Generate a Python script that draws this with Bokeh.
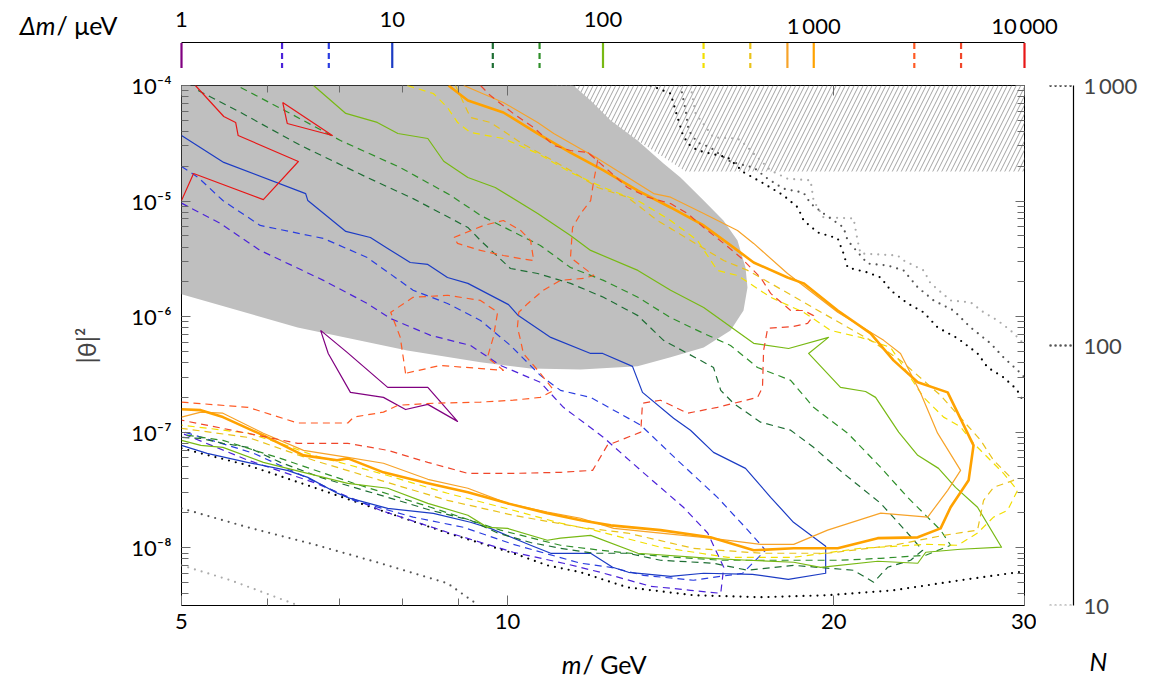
from bokeh.plotting import figure
from bokeh.layouts import column, row
from bokeh.models import Range1d, FixedTicker, LogAxis
from bokeh.core.properties import value
from bokeh.embed import file_html
from bokeh.resources import INLINE

FONT = "Lato"
LABEL_SIZE = "22px"
TITLE_SIZE = "25px"
TICK_COLOR = "#6b6b6b"
DASH = "7 5"
DOT = "0 7"

# ---------------- colour key: mass splitting (μeV) ----------------
dm_values = [1, 3, 5, 10, 30, 50, 100, 300, 500, 750, 1000, 3000, 5000, 10000]
dm_colors = ["#800080", "#4b22d9", "#2a3de0", "#1c3cc4", "#1e6e34", "#2f8f2a", "#78b914",
             "#f2df00", "#e9c21a", "#f7a329", "#ffa200", "#ff5a24", "#f0462a", "#e81717"]
dm_dashed = [False, True, True, False, True, True, False, True, True, False, False, True, True, False]
dm_label_values = [1, 10, 100, 1000, 10000]
dm_label_texts = ["1", "10", "100", "1\u2009000", "10\u2009000"]

# ---------------- event-count key ----------------
n_values = [1000, 100, 10]
n_colors = ["#000000", "#555555", "#ababab"]
n_tick_labels = {10: "10", 100: "100", 1000: "1\u2009000"}

# ---------------- axes ----------------
m_ticks = [5, 10, 20, 30]
m_minor = [6, 7, 8, 9]
theta_ticks = [1e-8, 1e-7, 1e-6, 1e-5, 1e-4]
theta_tick_labels = {1e-8: "10\u207b\u2078", 1e-7: "10\u207b\u2077", 1e-6: "10\u207b\u2076",
                     1e-5: "10\u207b\u2075", 1e-4: "10\u207b\u2074"}

# ---------------- excluded regions ----------------
excl_m = [5.0, 11.50, 11.93, 12.45, 13.18, 13.93, 14.44, 15.17, 15.82, 16.30, 16.58, 16.65,
          16.51, 16.06, 15.17, 14.14, 13.18, 11.68, 10.50, 9.44, 8.08, 6.40, 5.0]
excl_t = [1e-4, 1e-4, 7.42e-5, 4.98e-5, 3.34e-5, 2.11e-5, 1.60e-5, 1.01e-5, 6.79e-6, 4.56e-6,
          2.66e-6, 1.79e-6, 1.13e-6, 7.60e-7, 5.41e-7, 4.44e-7, 3.71e-7, 3.49e-7, 3.56e-7,
          4.02e-7, 5.10e-7, 8.06e-7, 1.56e-6]
hatch_m = [11.0, 30.0, 30.0, 14.6]
hatch_t = [1e-4, 1e-4, 1.8e-5, 1.8e-5]

# ---------------- event-number contours ----------------
m_n1000_hi = [13.55, 14.14, 14.35, 14.50, 14.66, 14.97, 15.97, 16.52, 17.23, 17.97, 18.53, 18.76,
              19.33, 20.17, 20.42, 20.60, 21.49, 22.10, 22.57, 23.40, 24.21, 24.94, 26.03, 27.15,
              27.74, 28.69, 29.50, 30.0]
t_n1000_hi = [1.00e-4, 8.52e-5, 5.29e-5, 3.84e-5, 3.15e-5, 2.74e-5, 2.38e-5, 1.77e-5, 1.42e-5,
              1.12e-5, 8.80e-6, 6.79e-6, 5.35e-6, 4.75e-6, 3.52e-6, 2.66e-6, 2.41e-6, 2.18e-6,
              1.69e-6, 1.30e-6, 1.09e-6, 8.06e-7, 6.48e-7, 4.80e-7, 3.63e-7, 2.98e-7, 2.35e-7, 1.78e-7]
m_n1000_lo = [5.00, 5.76, 6.62, 7.63, 8.80, 10.12, 10.88, 11.68, 12.90, 14.84, 17.12, 19.74,
              22.71, 26.19, 30.0]
t_n1000_lo = [7.24e-8, 5.16e-8, 3.33e-8, 2.11e-8, 1.34e-8, 8.96e-9, 7.04e-9, 6.13e-9, 4.54e-9,
              3.88e-9, 3.73e-9, 3.88e-9, 4.28e-9, 5.23e-9, 6.25e-9]

m_n100_hi = [14.44, 14.60, 14.69, 14.97, 15.39, 15.97, 16.30, 16.87, 17.38, 17.97, 18.76, 19.04,
             19.57, 20.42, 20.60, 20.86, 21.49, 22.43, 23.20, 23.91, 24.73, 25.80, 26.75, 27.91,
             28.69, 29.56, 30.0]
t_n100_hi = [1.00e-4, 6.08e-5, 4.08e-5, 3.21e-5, 2.91e-5, 2.25e-5, 2.11e-5, 1.95e-5, 1.56e-5,
             1.28e-5, 1.18e-5, 9.51e-6, 7.81e-6, 5.91e-6, 4.56e-6, 3.97e-6, 2.88e-6, 2.77e-6,
             2.51e-6, 1.79e-6, 1.38e-6, 1.13e-6, 8.06e-7, 5.87e-7, 4.44e-7, 3.43e-7, 2.98e-7]
m_n100_lo = [5.00, 5.76, 6.62, 7.63, 8.80, 9.40]
t_n100_lo = [2.19e-8, 1.50e-8, 1.07e-8, 7.34e-9, 4.92e-9, 3.18e-9]

m_n10_hi = [14.75, 14.91, 15.49, 16.30, 16.52, 17.01, 17.49, 18.13, 19.04, 19.16, 19.57, 20.86,
            21.04, 21.17, 22.91, 23.20, 24.21, 24.57, 25.64, 26.75, 27.50, 28.33, 29.12, 29.75, 30.0]
t_n10_hi = [1.00e-4, 5.73e-5, 3.55e-5, 3.48e-5, 3.15e-5, 2.38e-5, 1.84e-5, 1.56e-5, 1.51e-5,
            1.01e-5, 7.22e-6, 7.08e-6, 4.56e-6, 3.52e-6, 3.38e-6, 3.06e-6, 2.51e-6, 1.94e-6,
            1.38e-6, 1.33e-6, 1.09e-6, 9.27e-7, 7.60e-7, 6.23e-7, 5.63e-7]
m_n10_lo = [5.00, 5.55, 6.40]
t_n10_lo = [7.04e-9, 5.23e-9, 3.18e-9]

# ---------------- Δm contours ----------------
m_dm1 = [6.72, 6.83, 7.16, 7.68, 8.05, 8.44, 8.99, 8.44, 7.75, 7.11, 6.72]
t_dm1 = [7.6e-7, 4.8e-7, 2.21e-7, 2.0e-7, 1.57e-7, 1.74e-7, 1.24e-7, 2.44e-7, 2.44e-7, 4.9e-7, 7.6e-7]

m_dm3 = [5.00, 5.43, 5.91, 6.76, 7.42, 7.80, 8.49, 9.24, 9.85, 10.72, 11.26, 12.26, 13.27, 14.53,
         15.30, 15.83, 15.73, 14.75, 13.55, 12.18, 11.26, 10.12, 8.80, 7.63, 6.62, 5.76, 5.00]
t_dm3 = [9.6e-6, 6.40e-6, 3.74e-6, 2.06e-6, 1.30e-6, 9.61e-7, 6.88e-7, 5.63e-7, 3.78e-7, 2.70e-7,
         1.64e-7, 9.01e-8, 4.67e-8, 2.24e-8, 1.34e-8, 6.77e-9, 4.03e-9, 4.28e-9, 4.64e-9, 6.13e-9,
         7.34e-9, 9.14e-9, 1.36e-8, 2.11e-8, 3.68e-8, 5.71e-8, 9.80e-8]

m_dm5 = [5.00, 5.18, 5.46, 5.91, 6.76, 7.42, 8.18, 8.80, 9.44, 10.06, 10.72, 11.19, 11.93, 13.27,
         14.35, 15.62, 16.66, 17.30, 16.48, 14.84, 13.35, 12.45, 11.68, 10.12, 9.11, 8.18, 7.21,
         6.40, 5.83, 5.00]
t_dm5 = [1.99e-5, 1.60e-5, 1.01e-5, 6.15e-6, 4.75e-6, 3.25e-6, 1.69e-6, 1.30e-6, 9.27e-7, 5.63e-7,
         3.10e-7, 2.30e-7, 2.00e-7, 1.15e-7, 5.71e-8, 2.73e-8, 1.42e-8, 9.51e-9, 6.01e-9, 5.23e-9,
         5.77e-9, 6.77e-9, 7.34e-9, 1.07e-8, 1.50e-8, 1.84e-8, 2.57e-8, 4.40e-8, 6.56e-8, 1.02e-7]

m_dm10 = [5.00, 5.47, 6.51, 6.54, 7.09, 7.47, 7.75, 8.13, 8.44, 8.80, 9.19, 10.02, 10.23, 10.96,
          11.93, 12.24, 13.04, 13.32, 14.23, 14.75, 15.49, 16.58, 17.49, 18.36, 19.66, 19.66, 18.16,
          16.83, 15.17, 14.14, 12.93, 12.50, 11.93, 10.96, 10.50, 9.64, 9.24, 8.54, 7.75, 7.16, 6.97,
          6.54, 6.26, 5.75, 5.28, 5.00]
t_dm10 = [3.69e-5, 2.16e-5, 1.16e-5, 1.01e-5, 5.46e-6, 4.84e-6, 3.89e-6, 2.94e-6, 2.83e-6, 2.18e-6,
          1.94e-6, 1.27e-6, 1.02e-6, 6.61e-7, 4.80e-7, 4.80e-7, 3.71e-7, 2.21e-7, 1.32e-7, 1.04e-7,
          6.69e-8, 4.86e-8, 2.73e-8, 1.66e-8, 1.03e-8, 6.01e-9, 5.33e-9, 5.89e-9, 6.01e-9, 5.66e-9,
          6.13e-9, 6.77e-9, 8.95e-9, 8.95e-9, 1.05e-8, 1.47e-8, 1.66e-8, 1.98e-8, 2.19e-8, 2.67e-8,
          2.95e-8, 4.06e-8, 4.67e-8, 5.48e-8, 6.55e-8, 7.69e-8]

m_dm30 = [5.18, 5.67, 6.44, 7.42, 8.18, 9.19, 9.44, 10.06, 10.66, 11.43, 12.26, 13.19, 13.93, 14.66,
          15.49, 15.73, 16.16, 17.12, 18.25, 19.16, 20.42, 22.10, 23.40, 24.16, 23.55, 22.43, 21.77,
          20.86, 18.37, 16.66, 15.49, 13.84, 12.90, 12.01, 11.19, 10.50, 9.79, 9.24, 8.49, 7.75,
          7.21, 6.72, 6.17, 5.76, 5.46, 5.21, 5.00]
t_dm30 = [9.05e-5, 5.84e-5, 3.03e-5, 1.60e-5, 1.05e-5, 5.91e-6, 4.56e-6, 2.61e-6, 2.36e-6, 1.94e-6,
          1.47e-6, 1.02e-6, 6.23e-7, 4.80e-7, 3.63e-7, 2.30e-7, 1.78e-7, 1.22e-7, 1.04e-7, 7.39e-8,
          4.40e-8, 2.42e-8, 1.34e-8, 9.51e-9, 7.79e-9, 6.77e-9, 5.03e-9, 6.38e-9, 7.04e-9, 6.38e-9,
          7.34e-9, 7.79e-9, 8.96e-9, 8.96e-9, 9.89e-9, 1.11e-8, 1.34e-8, 1.73e-8, 2.11e-8, 2.73e-8,
          3.33e-8, 4.06e-8, 5.48e-8, 7.39e-8, 8.01e-8, 8.84e-8, 9.01e-8]

m_dm50 = [5.67, 6.30, 7.01, 7.96, 8.86, 9.44, 10.72, 11.43, 12.26, 13.19, 14.14, 15.17, 16.06,
          17.01, 18.25, 19.16, 20.60, 22.10, 23.40, 25.10, 25.64, 24.32, 22.10, 20.29, 17.86, 15.73,
          13.84, 12.18, 11.19, 9.85, 8.49, 7.21, 6.17, 5.46, 5.00]
t_dm50 = [9.61e-5, 5.73e-5, 3.34e-5, 1.95e-5, 1.12e-5, 7.51e-6, 4.13e-6, 2.66e-6, 2.06e-6, 1.47e-6,
          9.80e-7, 7.16e-7, 5.63e-7, 3.63e-7, 2.81e-7, 1.64e-7, 9.80e-8, 4.96e-8, 2.73e-8, 1.42e-8,
          1.05e-8, 8.60e-9, 8.10e-9, 7.79e-9, 7.79e-9, 7.79e-9, 8.43e-9, 9.51e-9, 1.05e-8, 1.42e-8,
          2.24e-8, 3.61e-8, 5.93e-8, 8.50e-8, 9.57e-8]

m_dm100 = [6.62, 7.09, 7.58, 7.92, 8.44, 8.73, 9.19, 9.74, 10.66, 11.43, 11.93, 13.19, 14.14, 15.17,
           16.87, 18.17, 19.78, 18.96, 20.29, 21.40, 21.86, 22.96, 23.91, 24.99, 25.91, 27.15, 28.57,
           26.19, 24.32, 23.91, 21.96, 19.45, 18.37, 16.66, 15.39, 13.19, 11.93, 11.19, 10.88, 10.00,
           9.58, 9.19, 8.44, 7.75, 7.12, 6.48, 5.95, 5.46, 5.21, 5.00]
t_dm100 = [1.00e-4, 5.73e-5, 4.79e-5, 3.84e-5, 3.48e-5, 2.21e-5, 1.60e-5, 1.31e-5, 7.81e-6, 5.04e-6,
           3.74e-6, 2.51e-6, 1.69e-6, 1.20e-6, 5.87e-7, 5.30e-7, 6.61e-7, 4.80e-7, 2.44e-7, 2.25e-7,
           2.00e-7, 1.00e-7, 6.30e-8, 4.86e-8, 3.33e-8, 2.24e-8, 1.01e-8, 9.70e-9, 9.14e-9, 7.34e-9,
           7.64e-9, 6.77e-9, 7.49e-9, 7.79e-9, 8.10e-9, 8.96e-9, 1.28e-8, 1.21e-8, 1.16e-8, 1.47e-8,
           1.50e-8, 1.91e-8, 2.42e-8, 3.27e-8, 3.61e-8, 4.49e-8, 5.48e-8, 7.39e-8, 7.69e-8, 8.50e-8]

m_dm300 = [8.08, 8.54, 8.80, 8.99, 9.24, 9.91, 10.66, 11.43, 12.26, 13.19, 14.14, 14.97, 15.62,
           16.30, 17.49, 18.76, 19.87, 21.17, 22.57, 24.21, 25.26, 26.19, 26.92, 27.50, 28.69, 29.56,
           28.94, 28.09, 27.15, 26.03, 24.42, 21.17, 18.37, 15.97, 13.84, 12.01, 11.19, 10.12, 8.80,
           7.63, 6.62, 6.17, 5.76, 5.00]
t_dm300 = [1.00e-4, 8.52e-5, 6.45e-5, 4.79e-5, 3.92e-5, 3.48e-5, 2.58e-5, 1.77e-5, 1.31e-5, 1.01e-5,
           6.79e-6, 4.56e-6, 2.51e-6, 2.27e-6, 1.47e-6, 1.09e-6, 7.60e-7, 6.61e-7, 5.41e-7, 2.00e-7,
           1.35e-7, 1.11e-7, 8.01e-8, 6.56e-8, 4.40e-8, 3.14e-8, 2.11e-8, 1.84e-8, 1.34e-8, 1.05e-8,
           1.07e-8, 9.89e-9, 8.26e-9, 8.26e-9, 1.01e-8, 1.42e-8, 1.63e-8, 2.11e-8, 2.96e-8, 4.40e-8,
           6.30e-8, 8.01e-8, 9.80e-8, 1.15e-7]

m_dm500 = [8.95, 9.24, 9.64, 10.28, 10.88, 11.43, 12.11, 12.90, 13.75, 14.75, 15.83, 16.66, 17.49,
           18.64, 19.87, 21.63, 23.05, 25.10, 27.33, 28.09, 29.31, 28.09, 27.50, 27.15, 25.26, 22.71,
           19.74, 17.12, 14.84, 12.90, 11.68, 10.12, 8.80, 7.63, 6.62, 5.76, 5.00]
t_dm500 = [1.00e-4, 5.29e-5, 4.79e-5, 3.21e-5, 2.38e-5, 1.84e-5, 1.31e-5, 1.08e-5, 6.79e-6, 4.56e-6,
           3.06e-6, 2.51e-6, 1.94e-6, 1.38e-6, 9.80e-7, 6.23e-7, 4.18e-7, 2.08e-7, 8.50e-8, 5.71e-8,
           3.83e-8, 3.33e-8, 2.57e-8, 1.42e-8, 1.28e-8, 1.05e-8, 8.96e-9, 8.96e-9, 9.89e-9, 1.34e-8,
           1.50e-8, 1.91e-8, 2.57e-8, 3.83e-8, 5.71e-8, 9.01e-8, 1.08e-7]

m_dm750 = [9.11, 9.91, 10.66, 11.03, 11.75, 12.11, 13.64, 14.14, 15.17, 16.30, 16.87, 18.13, 20.17,
           22.24, 23.05, 24.06, 24.94, 26.19, 25.48, 24.42, 22.10, 19.74, 18.37, 17.12, 15.39, 13.84,
           12.53, 11.68, 10.88, 10.00, 9.19, 8.44, 7.68, 7.12, 6.48, 5.95, 5.46, 5.21, 5.00]
t_dm750 = [1.00e-4, 7.13e-5, 4.79e-5, 3.84e-5, 2.74e-5, 2.34e-5, 1.16e-5, 1.08e-5, 7.81e-6, 5.57e-6,
           4.30e-6, 2.36e-6, 1.09e-6, 6.23e-7, 4.80e-7, 2.17e-7, 9.80e-8, 4.67e-8, 3.14e-8, 1.84e-8,
           1.99e-8, 1.42e-8, 1.07e-8, 1.07e-8, 1.21e-8, 1.34e-8, 1.47e-8, 1.80e-8, 2.03e-8, 2.42e-8,
           3.27e-8, 3.91e-8, 5.38e-8, 6.05e-8, 6.96e-8, 9.80e-8, 1.46e-7, 1.49e-7, 1.35e-7]

m_dm1000 = [8.82, 9.19, 9.91, 10.66, 11.43, 12.26, 13.19, 14.14, 15.17, 16.30, 16.87, 18.13, 18.76,
            20.17, 21.63, 22.71, 23.91, 25.48, 26.92, 26.64, 25.64, 25.10, 23.91, 21.96, 20.17,
            18.37, 16.87, 15.39, 13.84, 12.45, 11.68, 10.88, 10.00, 9.19, 8.44, 7.68, 7.12, 6.96,
            6.48, 5.95, 5.46, 5.21, 5.00]
t_dm1000 = [1.00e-4, 7.42e-5, 5.84e-5, 3.84e-5, 2.63e-5, 1.84e-5, 1.23e-5, 8.80e-6, 6.15e-6,
            3.74e-6, 2.94e-6, 2.18e-6, 1.94e-6, 1.13e-6, 7.16e-7, 4.18e-7, 2.70e-7, 2.21e-7, 7.69e-8,
            3.83e-8, 2.24e-8, 1.47e-8, 1.23e-8, 1.21e-8, 9.89e-9, 9.89e-9, 9.51e-9, 1.23e-8, 1.42e-8,
            1.56e-8, 1.73e-8, 1.99e-8, 2.42e-8, 3.02e-8, 3.61e-8, 4.49e-8, 5.93e-8, 5.71e-8, 6.30e-8,
            9.38e-8, 1.35e-7, 1.55e-7, 1.58e-7]

m_dm3000 = [11.86, 12.11, 12.01, 11.93, 11.68, 11.48, 11.43, 11.68, 12.01, 11.75, 11.19, 10.79,
            10.44, 10.24, 10.21, 10.28, 10.34, 10.72, 11.03, 10.72, 10.12, 9.44, 8.54, 7.92, 7.68,
            7.21, 7.12, 6.40, 5.76, 5.00]
t_dm3000 = [2.63e-5, 2.25e-5, 1.51e-5, 1.01e-5, 7.81e-6, 5.91e-6, 3.25e-6, 2.77e-6, 2.27e-6,
            2.14e-6, 2.06e-6, 1.69e-6, 1.30e-6, 1.09e-6, 8.06e-7, 6.23e-7, 4.80e-7, 3.23e-7, 2.30e-7,
            2.00e-7, 1.89e-7, 1.82e-7, 1.78e-7, 1.71e-7, 1.49e-7, 1.35e-7, 1.20e-7, 1.20e-7, 1.64e-7,
            1.82e-7]
m_dm3000_a = [8.05, 7.96, 7.80, 8.18, 8.80, 9.44, 9.79, 9.70, 9.58, 9.91, 8.67, 8.05]
t_dm3000_a = [3.23e-7, 6.61e-7, 1.09e-6, 1.47e-6, 1.53e-6, 1.38e-6, 1.09e-6, 6.61e-7, 4.44e-7,
              3.43e-7, 3.78e-7, 3.23e-7]
m_dm3000_b = [8.92, 9.50, 9.91, 10.28, 10.50, 10.57, 10.28, 9.91, 9.44, 8.99, 8.92]
t_dm3000_b = [4.84e-6, 6.15e-6, 6.79e-6, 5.57e-6, 4.56e-6, 3.06e-6, 3.18e-6, 3.38e-6, 3.74e-6,
              4.30e-6, 4.84e-6]

m_dm5000 = [9.44, 9.64, 10.12, 10.57, 11.03, 11.43, 11.86, 12.45, 12.90, 13.47, 14.14, 14.66, 15.17,
            15.83, 16.41, 17.12, 17.49, 18.25, 18.76, 19.16, 18.92, 18.37, 17.38, 17.23, 17.19,
            17.01, 15.62, 14.66, 13.84, 13.32, 13.27, 12.36, 11.98, 11.19, 10.12, 9.19, 8.44, 7.75,
            7.12, 6.40, 5.00]
t_dm5000 = [1.00e-4, 8.19e-5, 5.73e-5, 4.33e-5, 3.03e-5, 2.74e-5, 2.63e-5, 1.77e-5, 1.31e-5,
            1.08e-5, 9.51e-6, 7.81e-6, 5.91e-6, 4.30e-6, 3.25e-6, 2.18e-6, 1.59e-6, 1.13e-6, 1.13e-6,
            1.02e-6, 8.73e-7, 8.22e-7, 7.91e-7, 5.10e-7, 2.44e-7, 2.00e-7, 1.64e-7, 1.46e-7, 1.89e-7,
            1.78e-7, 1.00e-7, 7.69e-8, 4.67e-8, 4.49e-8, 4.40e-8, 4.40e-8, 5.48e-8, 6.96e-8, 8.01e-8,
            8.01e-8, 1.27e-7]

m_dm10000_a = [5.15, 5.47, 5.61, 5.64, 6.41, 5.95, 5.13, 5.00]
t_dm10000_a = [1.00e-4, 5.39e-5, 4.79e-5, 3.69e-5, 2.20e-5, 1.03e-5, 1.73e-5, 1.01e-5]
m_dm10000_b = [6.20, 6.89, 6.26, 6.20]
t_dm10000_b = [7.13e-5, 3.69e-5, 4.69e-5, 7.13e-5]

contours = [
    (m_dm1, t_dm1, 1, 1.2),
    (m_dm3, t_dm3, 3, 1.2),
    (m_dm5, t_dm5, 5, 1.2),
    (m_dm10, t_dm10, 10, 1.2),
    (m_dm30, t_dm30, 30, 1.2),
    (m_dm50, t_dm50, 50, 1.2),
    (m_dm100, t_dm100, 100, 1.2),
    (m_dm300, t_dm300, 300, 1.2),
    (m_dm500, t_dm500, 500, 1.2),
    (m_dm750, t_dm750, 750, 1.2),
    (m_dm1000, t_dm1000, 1000, 2.6),
    (m_dm3000, t_dm3000, 3000, 1.2),
    (m_dm3000_a, t_dm3000_a, 3000, 1.2),
    (m_dm3000_b, t_dm3000_b, 3000, 1.2),
    (m_dm5000, t_dm5000, 5000, 1.2),
    (m_dm10000_a, t_dm10000_a, 10000, 1.2),
    (m_dm10000_b, t_dm10000_b, 10000, 1.2),
]

n_curves = [
    (m_n10_hi, t_n10_hi, 10), (m_n10_lo, t_n10_lo, 10),
    (m_n100_hi, t_n100_hi, 100), (m_n100_lo, t_n100_lo, 100),
    (m_n1000_hi, t_n1000_hi, 1000), (m_n1000_lo, t_n1000_lo, 1000),
]


def dm_style(dm):
    i = dm_values.index(dm)
    return dm_colors[i], (DASH if dm_dashed[i] else "solid")


def n_color(n):
    return n_colors[n_values.index(n)]


def style_ticks(ax, major_in, minor_in):
    ax.major_tick_in = major_in
    ax.major_tick_out = 0
    ax.minor_tick_in = minor_in
    ax.minor_tick_out = 0
    ax.major_tick_line_color = TICK_COLOR
    ax.minor_tick_line_color = TICK_COLOR
    ax.axis_line_color = None


def hide_labels(ax, ticks):
    ax.major_label_overrides = {t: "" for t in ticks}
    ax.major_label_text_font_size = "1px"
    ax.major_label_standoff = 0


def blank_figure(width, height, **kw):
    f = figure(width=width, height=height, output_backend="svg", toolbar_location=None,
               x_axis_location=None, y_axis_location=None,
               min_border_left=0, min_border_right=0, min_border_top=0, min_border_bottom=0, **kw)
    f.xgrid.visible = False
    f.ygrid.visible = False
    f.outline_line_color = None
    return f


def add_text(f, x, y, txt, align, italic=False, size=TITLE_SIZE):
    # y is the top of the text line, counted downward in the strip
    f.text(x=[x], y=[y], text=[txt], text_align=align, text_baseline="top",
           text_font=value(FONT), text_font_size=size,
           text_font_style=("italic" if italic else "normal"), text_color="black")


# ================= main panel =================
ROW_H = 573
y_low = 10 ** -8.5
p = figure(width=1036, height=ROW_H, x_axis_type="log", y_axis_type="log",
           x_range=Range1d(5, 30), y_range=Range1d(y_low, 1e-4),
           output_backend="svg", toolbar_location=None,
           min_border_left=181, min_border_right=12, min_border_top=17, min_border_bottom=36)
p.xgrid.visible = False
p.ygrid.visible = False
p.outline_line_color = "black"
p.outline_line_width = 1
p.background_fill_color = "white"

theta_minor = [k * 10.0 ** e for e in range(-9, -4) for k in range(2, 10) if k * 10.0 ** e >= y_low]

xa = p.xaxis[0]
xa.ticker = FixedTicker(ticks=m_ticks, minor_ticks=m_minor)
style_ticks(xa, 10, 7)
xa.major_label_overrides = {t: str(t) for t in m_ticks}
xa.major_label_text_font = FONT
xa.major_label_text_font_size = LABEL_SIZE
xa.major_label_text_color = "black"
xa.major_label_standoff = 8

ya = p.yaxis[0]
ya.ticker = FixedTicker(ticks=theta_ticks, minor_ticks=theta_minor)
style_ticks(ya, 9, 7)
ya.major_label_overrides = theta_tick_labels
ya.major_label_text_font = FONT
ya.major_label_text_font_size = LABEL_SIZE
ya.major_label_text_color = "black"
ya.major_label_standoff = 10
ya.axis_label = "|θ|²"
ya.axis_label_text_font = FONT
ya.axis_label_text_font_size = "25px"
ya.axis_label_text_font_style = "normal"
ya.axis_label_standoff = 27

top_mirror = LogAxis(ticker=FixedTicker(ticks=m_ticks, minor_ticks=m_minor))
style_ticks(top_mirror, 10, 7)
hide_labels(top_mirror, m_ticks)
p.add_layout(top_mirror, "above")

right_mirror = LogAxis(ticker=FixedTicker(ticks=theta_ticks, minor_ticks=theta_minor))
style_ticks(right_mirror, 9, 7)
hide_labels(right_mirror, theta_ticks)
p.add_layout(right_mirror, "right")

# excluded regions
p.patch(hatch_m, hatch_t, fill_color=None, fill_alpha=0, line_color=None,
        hatch_pattern="/", hatch_color="#a3a3a3", hatch_scale=9, hatch_weight=1)
p.patch(excl_m, excl_t, fill_color="#bfbfbf", line_color=None)

# event-number contours
for mm, tt, n in n_curves:
    p.line(mm, tt, line_color=n_color(n), line_width=2.2, line_dash=DOT, line_cap="round")

# Δm contours
for mm, tt, dm, w in contours:
    col, dash = dm_style(dm)
    p.line(mm, tt, line_color=col, line_width=w, line_dash=dash, line_join="round")

# ================= N key at the right =================
pright = figure(width=113, height=ROW_H, y_axis_type="log",
                x_range=Range1d(0, 1), y_range=Range1d(10, 1000),
                y_axis_location="right", x_axis_location=None,
                output_backend="svg", toolbar_location=None,
                min_border_left=0, min_border_right=76, min_border_top=17, min_border_bottom=36)
pright.xgrid.visible = False
pright.ygrid.visible = False
pright.outline_line_color = None
ra = pright.yaxis[0]
ra.ticker = FixedTicker(ticks=n_values, minor_ticks=[])
ra.major_tick_in = 0
ra.major_tick_out = 0
ra.minor_tick_in = 0
ra.minor_tick_out = 0
ra.axis_line_color = "black"
ra.axis_line_width = 1.2
ra.major_label_overrides = n_tick_labels
ra.major_label_text_font = FONT
ra.major_label_text_font_size = LABEL_SIZE
ra.major_label_standoff = 10

for n in n_values:
    pright.segment(x0=[0.38], y0=[n], x1=[1], y1=[n], line_color=n_color(n), line_width=2.6,
                   line_dash="0 5", line_cap="round")

# ================= Δm key above the panel =================
plabel = blank_figure(171, 68, x_range=Range1d(0, 171), y_range=Range1d(68, 0))
add_text(plabel, 55, 9, "Δm", "right", italic=True)
add_text(plabel, 56, 9, "/ μeV", "left")

# key strip: log Δm scale, 1 → left edge of the panel, 10 000 → right edge
decade_px = 843 / 4
pkey = blank_figure(978, 68, x_axis_type="log",
                    x_range=Range1d(10 ** (-10 / decade_px), 10 ** (4 + 125 / decade_px)),
                    y_range=Range1d(68, 0))
KEY_LINE_Y = 42
pkey.segment(x0=[dm_values[0]], y0=[KEY_LINE_Y], x1=[dm_values[-1]], y1=[KEY_LINE_Y],
             line_color="black", line_width=1.2)
for dm in dm_values:
    col, dash = dm_style(dm)
    pkey.segment(x0=[dm], y0=[KEY_LINE_Y + 0.5], x1=[dm], y1=[68], line_color=col, line_width=2.2,
                 line_dash=("6 4" if dash != "solid" else "solid"))
pkey.text(x=dm_label_values, y=[11] * len(dm_label_values), text=dm_label_texts,
          text_align="center", text_baseline="top", text_font=value(FONT),
          text_font_size=LABEL_SIZE, text_color="black")

# ================= axis titles below =================
BOTTOM_H = 679 - 68 - ROW_H
pbottom = blank_figure(1149, BOTTOM_H, x_range=Range1d(0, 1149), y_range=Range1d(BOTTOM_H, 0))
add_text(pbottom, 581, 7, "m", "right", italic=True)
add_text(pbottom, 582, 7, "/ GeV", "left")
add_text(pbottom, 1089, 4, "N", "left", italic=True)

layout = column(row(plabel, pkey), row(p, pright), pbottom)
open("out.html", "w").write(file_html(layout, INLINE))
